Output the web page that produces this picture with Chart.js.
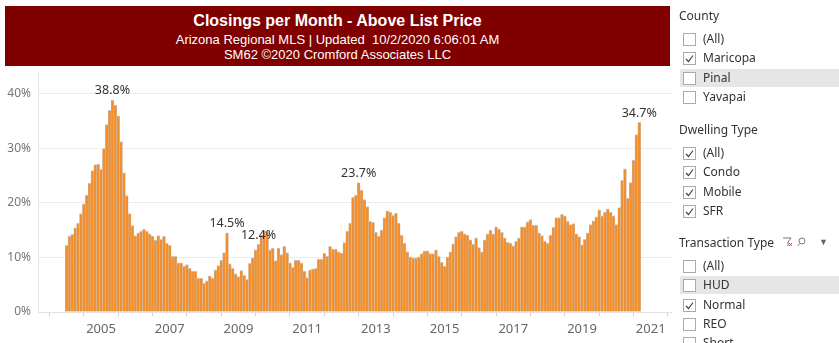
<!DOCTYPE html>
<html>
<head>
<meta charset="utf-8">
<script src="https://cdn.jsdelivr.net/npm/chart.js@4/dist/chart.umd.min.js"></script>
<style>
body{margin:0;width:839px;height:343px;overflow:hidden;background:#fff;font-family:"Noto Sans",sans-serif;}
#banner{position:absolute;left:5px;top:6px;width:665px;height:60px;background:#800000;color:#fff;text-align:center;font-family:"Liberation Sans",Arial,sans-serif;}
#banner .t{position:absolute;left:0;right:0;top:6px;font-size:16px;font-weight:bold;}
#banner .s{position:absolute;left:0;right:0;font-size:13px;}
#wrap{position:absolute;left:0;top:58px;width:675px;height:285px;}
.panel{position:absolute;left:670px;top:0;width:169px;height:343px;font-size:12px;color:#333;}
.hd{position:absolute;left:9px;}
.row{position:absolute;left:10px;width:159px;height:18px;}
.row.hl{background:#e6e6e6;}
.box{position:absolute;left:3px;top:3px;width:11px;height:11px;border:1px solid #aaa;background:#fff;}
.row span{position:absolute;left:23px;top:0;line-height:18px;}
</style>
</head>
<body>
<div id="banner">
  <div class="t">Closings per Month - Above List Price</div>
  <div class="s" style="top:26px">Arizona Regional MLS | Updated&nbsp; 10/2/2020 6:06:01 AM</div>
  <div class="s" style="top:41px">SM62 ©2020 Cromford Associates LLC</div>
</div>
<div id="wrap"><canvas id="chart"></canvas></div>
<div class="panel" id="panel"></div>
<script>
// monthly share of closings above list price, Jan 2004 .. Sep 2020
const startYear = 2004;
const pctAbove = [
  12.2,13.9,14.2,15.4,16.3,18.0,19.8,21.4,23.6,25.9,27.0,27.1,
  26.1,29.9,34.3,36.9,38.8,37.9,35.9,31.2,25.5,21.3,18.0,15.8,
  14.0,14.5,14.8,15.2,14.8,14.3,13.9,13.1,14.0,13.3,13.9,12.6,
  12.2,10.2,10.2,9.0,9.0,8.4,8.7,8.0,7.5,7.5,6.2,6.2,
  5.3,5.7,6.6,6.2,7.7,8.5,9.5,10.9,14.5,8.8,8.0,7.0,
  6.5,7.6,6.7,6.0,8.9,9.9,11.4,12.4,14.1,14.9,14.8,11.4,
  11.7,9.4,11.7,10.5,12.0,10.9,9.0,8.2,9.5,9.5,9.0,7.5,
  6.3,7.7,7.9,8.0,9.7,9.7,10.8,10.2,12.0,11.5,11.5,11.0,
  10.8,12.7,14.8,16.3,21.0,21.4,23.7,22.3,20.6,19.3,16.6,16.4,
  14.6,13.9,15.0,17.3,18.5,18.3,17.7,18.1,16.3,14.1,12.6,11.0,
  10.1,9.9,9.9,10.1,10.7,11.2,11.2,10.7,10.7,11.4,10.2,9.1,
  8.4,10.1,11.0,12.5,13.8,14.6,14.8,14.3,14.1,13.2,12.4,13.6,
  11.8,11.0,13.2,14.3,15.0,14.3,15.6,15.2,14.6,13.6,12.8,12.6,
  12.1,13.0,13.6,15.6,15.6,16.5,16.9,15.9,15.9,14.5,14.0,13.0,
  12.6,14.1,15.5,17.3,17.3,17.9,17.6,16.6,16.0,16.2,14.3,13.8,
  12.3,13.3,14.5,16.0,16.7,17.4,18.7,17.6,18.3,18.9,18.3,17.6,
  16.0,19.1,24.1,26.2,20.8,23.7,27.8,32.5,34.7
];
const labelledMonths = [16, 56, 67, 102, 200]; // bars that carry a value label
const yTicks = [0, 10, 20, 30, 40];
const yearTicks = [2004,2005,2006,2007,2008,2009,2010,2011,2012,2013,2014,2015,2016,2017,2018,2019,2020,2021];

const points = pctAbove.map((v, i) => ({x: startYear + i / 12, y: v}));

const valueLabels = {
  id: 'valueLabels',
  afterDatasetsDraw(chart) {
    const ctx = chart.ctx;
    const meta = chart.getDatasetMeta(0);
    ctx.save();
    ctx.font = '12.5px "Noto Sans"';
    ctx.fillStyle = '#333';
    ctx.textAlign = 'center';
    ctx.textBaseline = 'bottom';
    labelledMonths.forEach(i => {
      const bar = meta.data[i];
      ctx.fillText(pctAbove[i].toFixed(1) + '%', bar.x, bar.y - 3);
    });
    ctx.restore();
  }
};

new Chart(document.getElementById('chart'), {
  type: 'bar',
  data: {
    datasets: [{
      data: points,
      backgroundColor: '#f28e2b',
      borderColor: '#c9c9c9',
      borderWidth: {top: 1, left: 0.5, right: 0.5, bottom: 0},
      barPercentage: 1,
      categoryPercentage: 1
    }]
  },
  options: {
    responsive: true,
    maintainAspectRatio: false,
    animation: false,
    layout: {padding: {top: 4, right: 4, bottom: 0, left: 0}},
    plugins: {legend: {display: false}, tooltip: {enabled: false}},
    scales: {
      x: {
        type: 'linear',
        offset: false,
        min: 2003.166,
        max: 2021.59,
        afterBuildTicks: s => { s.ticks = yearTicks.map(v => ({value: v})); },
        afterFit: s => { s.height = 31; },
        ticks: {
          autoSkip: false,
          maxRotation: 0,
          padding: 5,
          color: '#666',
          font: {family: 'Noto Sans', size: 13},
          callback: v => (v % 2 === 1 ? String(v) : '')
        },
        grid: {drawOnChartArea: false, drawTicks: true, tickLength: 4, color: '#d0d0d0'},
        border: {color: '#e3e3e3'}
      },
      y: {
        min: 0,
        max: 43.9,
        afterBuildTicks: s => { s.ticks = yTicks.map(v => ({value: v})); },
        afterFit: s => { s.width = 38; },
        ticks: {
          padding: 7,
          color: '#777',
          font: {family: 'Noto Sans', size: 12},
          callback: v => v + '%'
        },
        grid: {color: '#ececec', drawTicks: false},
        border: {color: '#e3e3e3'}
      }
    }
  },
  plugins: [valueLabels]
});

// filter panel on the right
const countyItems = [['(All)', false], ['Maricopa', true], ['Pinal', false], ['Yavapai', false]];
const dwellingItems = [['(All)', true], ['Condo', true], ['Mobile', true], ['SFR', true]];
const transactionItems = [['(All)', false], ['HUD', false], ['Normal', true], ['REO', false], ['Short', false]];
const check = '<svg width="11" height="11" style="position:absolute;left:0;top:0"><polyline points="2,6 4.5,8.5 9,2.5" fill="none" stroke="#444" stroke-width="1.2"/></svg>';

const panel = document.getElementById('panel');
function group(title, top, items, hlIndex) {
  let html = '<div class="hd" style="top:' + (top - 9) + 'px">' + title + '</div>';
  items.forEach((it, i) => {
    const y = top + 14 + i * 19.3;
    html += '<div class="row' + (i === hlIndex ? ' hl' : '') + '" style="top:' + y + 'px">' +
      '<div class="box">' + (it[1] ? check : '') + '</div><span>' + it[0] + '</span></div>';
  });
  panel.insertAdjacentHTML('beforeend', html);
}
group('County', 16, countyItems, 2);
group('Dwelling Type', 130, dwellingItems, -1);
group('Transaction Type', 243, transactionItems, 1);
panel.insertAdjacentHTML('beforeend',
  '<svg style="position:absolute;left:112px;top:236px" width="32" height="12">' +
  '<path d="M1,2 H9 L6,6 V10 M5,7" fill="none" stroke="#777" stroke-width="1"/>' +
  '<path d="M7,7 L10,10 M10,7 L7,10" stroke="#d33" stroke-width="1"/>' +
  '<circle cx="20" cy="5" r="3" fill="none" stroke="#777" stroke-width="1"/><path d="M18,7.5 L15.5,10" stroke="#777"/>' +
  '</svg><div style="position:absolute;left:149px;top:235px;font-size:9px;color:#666">&#9660;</div>');
</script>
</body>
</html>
